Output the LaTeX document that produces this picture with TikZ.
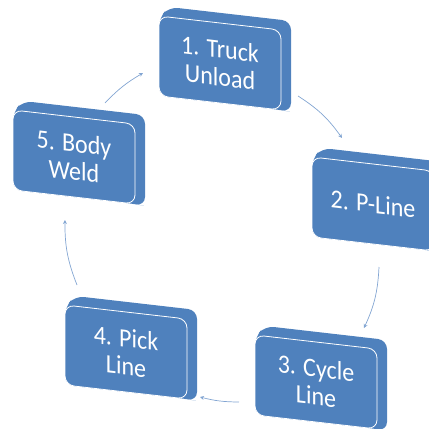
\documentclass[tikz,border=0pt]{standalone}
\usepackage{fontspec}
\setmainfont{Carlito}
\usetikzlibrary{arrows.meta}
\definecolor{accent}{RGB}{79,129,189}
\definecolor{arrowblue}{RGB}{130,165,210}
\tikzset{
  face/.style={fill=accent, draw=white, line width=0.8pt, rounded corners=9pt},
  sideface/.style={fill=accent, draw=none, rounded corners=9pt},
  boxtext/.style={text=white, align=center, font=\fontsize{24}{25.5}\selectfont, yslant=-0.12, yscale=1.1, inner sep=0pt},
  cyc/.style={draw=arrowblue, line width=0.7pt, -{Stealth[length=4pt,width=4pt]}},
}
\newcommand\cyclebox[4]{%
  \begin{scope}[shift={(#2,#3)}]
    \path[sideface] (0,2) -- (10,-9) -- (132,5) -- (132,96) -- (122,94) -- (0,80) -- cycle;
    \path[face] (0,0) -- (122,14) -- (122,94) -- (0,80) -- cycle;
    \node[boxtext] (#1) at (61,47) {#4};
  \end{scope}}
\begin{document}
\begin{tikzpicture}[x=1pt,y=-1pt]
\clip (0,0) rectangle (429,429);
\cyclebox{b1}{159}{16}{1. Truck\\Unload}
\cyclebox{b2}{312}{157}{2. P-Line}
\cyclebox{b3}{255}{335}{3. Cycle\\Line}
\cyclebox{b4}{65}{305}{4. Pick\\Line}
\cyclebox{b5}{13}{110}{5. Body\\Weld}
\coordinate (a1s) at (298,96);
\coordinate (a1e) at (342,138);
\coordinate (a2s) at (379,267);
\coordinate (a2e) at (364,328);
\coordinate (a3s) at (239,402);
\coordinate (a3e) at (200,397);
\coordinate (a4s) at (77,285);
\coordinate (a4e) at (65,220);
\coordinate (a5s) at (105,103);
\coordinate (a5e) at (143,73);
\draw[cyc] (a1s) to[bend left=11] (a1e);
\draw[cyc] (a2s) to[bend left=11] (a2e);
\draw[cyc] (a3s) to[bend left=7] (a3e);
\draw[cyc] (a4s) to[bend left=11] (a4e);
\draw[cyc] (a5s) to[bend left=8] (a5e);
\end{tikzpicture}
\end{document}
